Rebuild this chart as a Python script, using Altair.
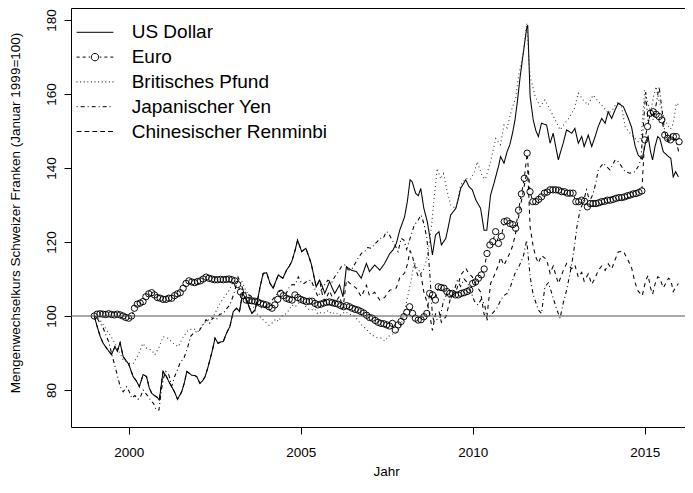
import altair as alt
import pandas as pd

SERIES = ["US Dollar", "Euro", "Britisches Pfund", "Japanischer Yen", "Chinesischer Renminbi"]

# US Dollar (year, index)
USD = [(1999.00,100.0),(1999.07,97.6),(1999.17,94.5),(1999.26,92.6),(1999.38,91.0),(1999.50,89.6),(1999.60,91.7),(1999.67,90.5),(1999.75,92.8),(1999.84,89.0),
       (2000.00,87.0),(2000.13,83.6),(2000.22,82.5),(2000.31,80.9),(2000.42,84.2),(2000.52,83.6),(2000.60,80.5),(2000.67,79.1),(2000.75,78.5),(2000.83,78.0),(2000.89,77.3),
       (2001.00,85.0),(2001.10,83.6),(2001.17,82.2),(2001.25,80.9),(2001.33,79.5),(2001.42,77.5),(2001.54,79.5),(2001.62,82.0),(2001.69,85.0),(2001.75,84.6),(2001.83,84.0),(2001.92,83.9),(2001.98,83.6),
       (2002.07,81.8),(2002.15,82.5),(2002.22,83.6),(2002.30,86.0),(2002.36,88.1),(2002.44,91.0),(2002.51,94.0),(2002.60,92.6),(2002.67,93.0),(2002.75,93.1),(2002.85,95.5),(2002.94,97.1),
       (2003.04,101.2),(2003.14,102.1),(2003.22,101.2),(2003.31,106.1),(2003.43,104.3),(2003.50,102.5),(2003.58,100.7),(2003.67,101.6),(2003.75,104.5),(2003.82,107.9),(2003.91,111.5),
       (2004.01,111.7),(2004.11,108.8),(2004.20,107.5),(2004.28,109.5),(2004.35,111.1),(2004.48,110.2),(2004.59,112.4),(2004.67,113.5),(2004.74,114.7),(2004.83,117.5),(2004.91,120.5),
       (2005.03,117.4),(2005.15,118.3),(2005.24,116.0),(2005.31,114.0),(2005.45,107.9),(2005.55,109.7),(2005.63,108.0),(2005.70,106.1),(2005.84,109.3),(2005.92,107.5),(2005.99,106.1),
       (2006.13,108.4),(2006.23,105.2),(2006.33,113.3),(2006.47,112.4),(2006.62,112.0),(2006.76,110.2),(2006.91,114.2),
       (2007.00,112.0),(2007.15,113.8),(2007.30,112.4),(2007.44,114.2),(2007.59,116.9),(2007.68,117.8),(2007.78,119.6),(2007.88,123.2),
       (2008.02,126.8),(2008.10,130.9),(2008.18,136.8),(2008.24,136.3),(2008.34,133.2),(2008.42,132.5),(2008.49,134.5),(2008.58,129.1),(2008.68,125.5),(2008.76,121.0),(2008.83,116.5),(2008.92,121.9),
       (2009.02,122.8),(2009.09,119.2),(2009.22,121.0),(2009.30,124.5),(2009.36,127.3),(2009.51,129.1),(2009.58,131.5),(2009.65,134.5),(2009.80,136.8),(2009.89,135.0),(2009.99,134.1),
       (2010.09,131.4),(2010.23,129.1),(2010.33,123.2),(2010.41,123.2),(2010.52,132.7),(2010.62,135.9),(2010.76,140.8),(2010.81,143.1),(2010.91,141.3),
       (2011.00,144.4),(2011.08,146.3),(2011.16,149.5),(2011.23,153.0),(2011.30,158.0),(2011.38,164.7),(2011.47,171.0),(2011.57,177.8),(2011.60,178.6),(2011.67,159.3),(2011.76,153.0),(2011.84,150.0),(2011.91,148.5),
       (2012.00,152.1),(2012.15,151.6),(2012.25,146.7),(2012.34,149.4),(2012.42,145.5),(2012.49,142.2),(2012.56,144.5),(2012.63,146.7),(2012.73,150.3),(2012.88,149.4),(2012.97,150.7),
       (2013.07,146.7),(2013.17,148.5),(2013.24,145.8),(2013.36,148.9),(2013.46,145.8),(2013.56,148.5),(2013.65,151.2),(2013.75,153.4),(2013.85,152.1),(2013.94,155.2),
       (2014.04,153.4),(2014.14,155.7),(2014.23,157.5),(2014.38,156.6),(2014.52,153.5),(2014.62,151.0),(2014.72,146.0),(2014.81,143.5),(2014.93,142.4),
       (2015.03,147.1),(2015.10,148.5),(2015.17,144.4),(2015.23,142.2),(2015.30,145.8),(2015.38,148.5),(2015.44,148.0),(2015.54,144.4),(2015.69,143.1),(2015.76,142.6),(2015.83,137.6),(2015.90,139.0),(2015.98,137.6)]

# Euro: monthly values from January 1999
EUR_START = 1999
EUR = [100.0,100.5,100.6,100.5,100.4,100.6,100.4,100.3,100.5,100.3,100.0,99.6,
       99.4,100.0,102.1,103.2,103.5,103.9,105.2,106.0,106.3,105.7,105.0,104.8,
       104.5,104.5,104.8,104.8,105.5,106.0,106.3,107.5,108.8,109.5,109.2,109.0,
       109.3,109.5,110.0,110.5,110.2,110.0,109.8,109.8,109.9,109.8,109.9,110.0,
       109.8,109.5,108.5,106.5,105.5,104.3,104.2,104.1,104.0,103.8,103.4,103.2,
       103.0,102.5,102.1,103.0,104.5,106.1,105.5,104.8,104.5,104.3,105.7,105.0,
       104.5,104.2,103.9,104.0,104.0,103.4,103.0,103.2,103.5,103.7,103.8,103.6,
       103.4,103.2,102.8,102.5,102.8,102.5,102.1,101.8,101.6,101.2,100.8,100.2,
       99.6,99.4,98.8,98.3,98.0,97.9,97.6,97.3,98.0,96.2,97.6,98.5,
       99.8,101.0,102.5,100.7,99.4,98.9,99.0,99.8,100.7,106.1,105.7,104.3,
       107.9,107.7,107.5,106.6,106.1,106.1,105.7,105.7,106.1,106.3,106.6,107.0,
       108.8,109.2,110.2,111.1,112.7,116.9,119.2,120.1,122.8,119.6,121.5,125.5,
       125.7,125.0,124.7,123.7,128.6,133.0,137.2,144.0,133.6,130.9,130.9,131.5,
       132.2,133.2,133.5,134.1,134.1,134.1,134.0,133.6,133.6,133.2,133.2,133.2,
       130.9,130.9,131.3,131.0,129.5,130.4,130.4,130.4,130.6,130.9,131.0,131.3,
       131.3,131.5,131.8,132.0,132.0,132.2,132.5,132.7,133.0,133.1,133.4,133.8,
       147.6,151.2,154.8,155.2,154.5,153.9,153.0,148.9,148.0,147.6,148.5,148.5,
       147.1]

GBP = [(1999.00,100.0),(1999.17,98.9),(1999.36,96.2),(1999.55,93.5),(1999.70,90.8),(1999.84,88.1),(2000.00,87.2),(2000.13,87.2),(2000.28,89.5),(2000.41,92.6),(2000.52,91.3),(2000.67,90.8),(2000.76,89.5),(2000.89,91.7),
       (2001.00,94.4),(2001.14,94.0),(2001.30,92.6),(2001.44,91.7),(2001.59,94.4),(2001.73,96.2),(2001.88,96.6),(2002.02,95.8),(2002.17,98.0),(2002.31,98.9),(2002.46,99.8),(2002.60,102.5),(2002.75,104.8),(2002.90,106.6),
       (2003.04,109.3),(2003.16,109.7),(2003.28,109.5),(2003.40,107.0),(2003.50,105.5),(2003.62,102.5),(2003.72,100.7),(2003.85,99.5),(2003.96,98.5),(2004.08,97.5),(2004.16,98.0),(2004.28,99.2),(2004.35,98.5),(2004.45,100.0),
       (2004.54,100.3),(2004.65,101.5),(2004.74,103.0),(2004.84,102.5),(2004.93,103.3),(2005.03,104.3),(2005.10,103.0),(2005.20,102.0),(2005.30,101.5),(2005.40,102.0),(2005.50,100.5),(2005.60,101.0),(2005.70,100.8),(2005.80,101.5),(2005.90,100.5),
       (2006.00,101.0),(2006.15,100.2),(2006.30,101.2),(2006.40,100.5),(2006.53,100.3),(2006.65,99.0),(2006.77,97.6),(2006.90,96.5),(2007.06,94.9),(2007.20,94.2),(2007.35,94.0),(2007.45,93.2),(2007.55,94.5),(2007.64,94.9),(2007.75,95.5),(2007.88,96.7),
       (2008.00,100.3),(2008.08,104.0),(2008.20,109.0),(2008.30,114.7),(2008.38,113.0),(2008.50,111.5),(2008.60,113.0),(2008.70,117.0),(2008.80,124.0),(2008.88,132.0),(2008.97,139.9),
       (2009.07,137.0),(2009.15,138.5),(2009.25,134.0),(2009.36,130.0),(2009.51,129.0),(2009.65,135.4),(2009.80,137.2),(2009.94,137.0),(2010.05,139.0),(2010.13,141.7),(2010.28,137.7),(2010.37,137.0),(2010.52,141.7),(2010.67,148.0),(2010.81,146.3),(2010.91,151.6),
       (2011.00,150.8),(2011.13,155.7),(2011.25,159.0),(2011.33,164.7),(2011.47,171.0),(2011.57,179.1),(2011.67,164.7),(2011.82,159.3),(2011.96,156.6),(2012.10,158.4),(2012.25,155.7),(2012.40,153.0),(2012.54,150.3),(2012.68,152.1),(2012.80,153.5),(2012.95,156.0),
       (2013.07,160.2),(2013.21,158.4),(2013.35,157.0),(2013.50,159.7),(2013.65,158.0),(2013.79,156.6),(2013.94,154.8),(2014.05,155.5),(2014.15,157.0),(2014.25,158.0),(2014.33,156.5),(2014.43,151.2),(2014.52,150.0),(2014.62,148.9),(2014.72,148.0),(2014.81,147.1),(2014.90,148.5),
       (2015.00,161.0),(2015.08,158.0),(2015.17,155.0),(2015.25,159.0),(2015.33,162.0),(2015.42,158.0),(2015.50,155.7),(2015.58,153.0),(2015.67,151.5),(2015.75,150.5),(2015.83,152.0),(2015.92,157.5),(2016.00,157.0)]

JPY = [(1999.00,100.0),(1999.08,99.5),(1999.17,98.0),(1999.25,97.0),(1999.33,95.0),(1999.42,93.0),(1999.50,90.0),(1999.58,87.2),(1999.67,84.0),(1999.75,81.0),(1999.84,79.5),(1999.94,80.9),
       (2000.02,79.5),(2000.09,77.8),(2000.18,78.5),(2000.27,77.5),(2000.33,77.8),(2000.42,80.0),(2000.50,79.0),(2000.57,78.2),(2000.65,77.0),(2000.72,76.4),(2000.80,74.6),(2000.88,74.6),(2000.95,80.0),
       (2001.02,83.5),(2001.08,85.0),(2001.17,84.0),(2001.25,81.0),(2001.33,83.5),(2001.42,85.5),(2001.50,87.5),(2001.60,88.5),(2001.70,91.0),(2001.80,94.5),(2001.90,95.5),
       (2002.05,96.0),(2002.15,97.5),(2002.25,99.0),(2002.35,98.0),(2002.45,99.5),(2002.55,99.0),(2002.65,100.5),(2002.75,100.7),(2002.85,102.0),(2002.94,103.0),
       (2003.02,105.0),(2003.09,107.0),(2003.18,110.5),(2003.25,109.0),(2003.33,107.0),(2003.45,106.0),(2003.58,105.2),(2003.68,104.0),(2003.77,103.0),(2003.88,102.0),
       (2004.00,102.5),(2004.10,103.5),(2004.25,105.2),(2004.35,106.5),(2004.45,107.0),(2004.55,105.5),(2004.65,107.5),(2004.75,108.5),(2004.84,108.4),(2004.93,110.6),
       (2005.03,108.8),(2005.10,108.8),(2005.20,109.5),(2005.30,109.7),(2005.40,107.5),(2005.50,105.2),(2005.60,107.0),(2005.70,108.5),(2005.79,109.7),(2005.90,109.0),(2005.99,110.6),
       (2006.10,112.0),(2006.18,113.3),(2006.28,113.8),(2006.38,112.5),(2006.47,112.4),(2006.57,114.0),(2006.67,115.6),(2006.77,117.0),(2006.86,117.4),(2006.95,118.5),
       (2007.06,118.3),(2007.15,119.5),(2007.22,120.0),(2007.30,121.0),(2007.40,121.0),(2007.49,122.8),(2007.55,122.5),(2007.63,121.0),(2007.74,119.2),(2007.83,117.4),(2007.92,121.0),
       (2008.00,120.5),(2008.08,118.0),(2008.18,121.0),(2008.30,124.5),(2008.42,126.0),(2008.50,127.3),(2008.58,125.0),(2008.67,121.0),(2008.75,112.0),(2008.83,100.0),(2008.88,98.5),(2008.95,99.0),
       (2009.05,99.5),(2009.15,104.0),(2009.25,106.0),(2009.35,104.5),(2009.45,106.5),(2009.55,109.5),(2009.65,108.0),(2009.75,110.0),(2009.85,109.0),(2009.95,106.5),
       (2010.05,104.0),(2010.15,103.0),(2010.25,104.5),(2010.35,103.0),(2010.42,99.0),(2010.50,100.0),(2010.60,101.0),(2010.70,102.0),(2010.80,104.0),(2010.90,105.5),
       (2011.00,106.1),(2011.10,108.0),(2011.23,111.5),(2011.35,113.5),(2011.47,116.0),(2011.57,120.5),(2011.67,110.6),(2011.76,105.7),(2011.91,101.6),
       (2012.00,100.7),(2012.10,107.9),(2012.20,109.0),(2012.30,106.1),(2012.45,101.6),(2012.54,99.4),(2012.63,103.4),(2012.73,107.0),(2012.83,111.5),(2012.93,116.9),
       (2013.03,124.1),(2013.12,128.6),(2013.22,130.9),(2013.31,134.1),(2013.40,131.0),(2013.50,133.0),(2013.58,136.0),(2013.65,139.5),(2013.80,141.3),(2013.89,140.4),(2013.99,139.5),
       (2014.08,141.0),(2014.14,142.2),(2014.23,141.7),(2014.33,140.4),(2014.43,139.0),(2014.57,138.6),(2014.72,139.0),(2014.81,140.4),(2014.89,142.2),(2014.95,150.0),
       (2015.03,160.5),(2015.10,152.0),(2015.17,155.0),(2015.25,153.0),(2015.33,157.0),(2015.42,162.0),(2015.50,156.0),(2015.58,150.0),(2015.67,147.0),(2015.75,149.0),(2015.83,148.0),(2015.92,147.0),(2016.00,144.0)]

CNY = [(1999.00,100.0),(1999.07,97.6),(1999.17,94.5),(1999.26,92.6),(1999.38,91.0),(1999.50,89.6),(1999.60,91.7),(1999.67,90.5),(1999.75,92.8),(1999.84,89.0),
       (2000.00,87.0),(2000.13,83.6),(2000.22,82.5),(2000.31,80.9),(2000.42,84.2),(2000.52,83.6),(2000.60,80.5),(2000.67,79.1),(2000.75,78.5),(2000.83,78.0),(2000.89,77.3),
       (2001.00,85.0),(2001.10,83.6),(2001.17,82.2),(2001.25,80.9),(2001.33,79.5),(2001.42,77.5),(2001.54,79.5),(2001.62,82.0),(2001.69,85.0),(2001.75,84.6),(2001.83,84.0),(2001.92,83.9),(2001.98,83.6),
       (2002.07,81.8),(2002.15,82.5),(2002.22,83.6),(2002.30,86.0),(2002.36,88.1),(2002.44,91.0),(2002.51,94.0),(2002.60,92.6),(2002.67,93.0),(2002.75,93.1),(2002.85,95.5),(2002.94,97.1),
       (2003.04,101.2),(2003.14,102.1),(2003.22,101.2),(2003.31,106.1),(2003.43,104.3),(2003.50,102.5),(2003.58,100.7),(2003.67,101.6),(2003.75,104.5),(2003.82,107.9),(2003.91,111.5),
       (2004.01,111.7),(2004.11,108.8),(2004.20,107.5),(2004.28,109.5),(2004.35,111.1),(2004.48,110.2),(2004.59,112.4),(2004.67,113.5),(2004.74,114.7),(2004.83,117.5),(2004.91,120.5),
       (2005.03,117.4),(2005.15,118.3),(2005.24,116.0),(2005.31,114.0),(2005.45,107.9),(2005.55,109.7),(2005.63,105.8),(2005.70,104.0),(2005.84,106.8),(2005.92,105.0),(2005.99,103.4),
       (2006.13,105.4),(2006.23,102.0),(2006.33,109.7),(2006.47,108.5),(2006.62,107.5),(2006.76,105.2),(2006.91,108.3),
       (2007.00,105.5),(2007.15,106.4),(2007.30,104.3),(2007.44,105.0),(2007.59,107.0),(2007.68,107.2),(2007.78,107.6),(2007.88,110.3),
       (2008.02,111.6),(2008.10,113.9),(2008.18,117.6),(2008.24,116.5),(2008.34,112.6),(2008.42,110.6),(2008.49,111.4),(2008.58,106.5),(2008.68,103.5),(2008.76,99.8),(2008.83,96.1),(2008.92,100.6),
       (2009.02,101.3),(2009.09,98.3),(2009.22,99.8),(2009.30,102.7),(2009.36,105.0),(2009.51,106.5),(2009.58,108.5),(2009.65,111.0),(2009.80,112.9),(2009.89,111.4),(2009.99,110.6),
       (2010.09,108.4),(2010.23,106.5),(2010.33,100.5),(2010.41,99.5),(2010.52,108.8),(2010.62,110.8),(2010.76,114.0),(2010.81,115.9),(2010.91,113.7),
       (2011.00,115.5),(2011.08,117.0),(2011.16,118.9),(2011.23,121.6),(2011.30,124.8),(2011.38,129.3),(2011.47,133.7),(2011.57,138.7),(2011.60,139.3),(2011.67,124.0),(2011.76,118.7),(2011.84,115.8),(2011.91,114.3),
       (2012.00,116.4),(2012.15,115.2),(2012.25,111.5),(2012.34,113.5),(2012.42,110.9),(2012.49,108.8),(2012.56,110.5),(2012.63,112.2),(2012.73,114.2),(2012.88,112.8),(2012.97,113.8),
       (2013.07,110.5),(2013.17,111.8),(2013.24,109.4),(2013.36,111.4),(2013.46,108.6),(2013.56,110.3),(2013.65,112.3),(2013.75,113.5),(2013.85,112.3),(2013.94,114.1),
       (2014.04,112.7),(2014.14,115.2),(2014.23,117.3),(2014.38,117.5),(2014.52,115.0),(2014.62,113.0),(2014.72,109.0),(2014.81,106.7),(2014.93,105.5),
       (2015.03,109.6),(2015.10,111.0),(2015.17,107.6),(2015.23,105.9),(2015.30,108.6),(2015.38,110.6),(2015.44,110.3),(2015.54,107.6),(2015.69,110.2),(2015.76,109.8),(2015.83,106.6),(2015.90,107.7),(2015.98,108.8)]

REFERENCE_LINE = [100]
X_TICKS = [2000, 2005, 2010, 2015]
Y_TICKS = [80, 100, 120, 140, 160, 180]
X_TITLE = "Jahr"
Y_TITLE = "Mengenwechselkurs Schweizer Franken (Januar 1999=100)"

# ---------------------------------------------------------------- data frames
rows = []
for name, pairs in [("US Dollar", USD), ("Britisches Pfund", GBP),
                    ("Japanischer Yen", JPY), ("Chinesischer Renminbi", CNY)]:
    for yr, v in pairs:
        rows.append({"year": yr, "value": v, "series": name})
df_lines = pd.DataFrame(rows)
df_eur = pd.DataFrame({"year": [EUR_START + i / 12 for i in range(len(EUR))],
                       "value": EUR, "series": "Euro"})
df_ref = pd.DataFrame({"v": REFERENCE_LINE})
df_legend = pd.DataFrame({"series": SERIES})

# ---------------------------------------------------------------- styling
FONT = "Liberation Sans"
X_DOMAIN = [1998.323, 2016.172]
Y_DOMAIN = [70.0, 183.24]
x_scale = alt.Scale(domain=X_DOMAIN, nice=False, zero=False)
y_scale = alt.Scale(domain=Y_DOMAIN, nice=False, zero=False)

LINE_SERIES = ["US Dollar", "Britisches Pfund", "Japanischer Yen", "Chinesischer Renminbi"]
LINE_DASH = [[1, 0], [1, 3], [1, 3, 4, 3], [4, 4]]
LINE_COLOR = ["black", "#333333", "black", "black"]

# legend glyphs, drawn in pixels around the symbol centre (1 path unit = 5 px)
UNIT = 5.0
HALF = 18.35


def pattern_segments(pattern):
    segs, pos, i = [], -HALF, 0
    while pos < HALF:
        length = pattern[i % len(pattern)]
        if i % 2 == 0:
            segs.append((pos, min(pos + length, HALF)))
        pos += length
        i += 1
    return segs


def seg_path(segs):
    return " ".join(f"M{a / UNIT:.3f},0H{b / UNIT:.3f}" for a, b in segs)


def circle_path(r):
    r = r / UNIT
    return f" M{r:.3f},0A{r:.3f},{r:.3f} 0 1,1 {-r:.3f},0A{r:.3f},{r:.3f} 0 1,1 {r:.3f},0"


LEGEND_PATHS = [
    seg_path([(-HALF, HALF)]),
    seg_path([(-18.35, -15.35), (-12.35, -9.35), (-6.35, -4.9), (4.9, 6.35), (9.35, 12.35), (15.35, 18.35)]) + circle_path(3.7),
    seg_path([(c - 0.5, c + 0.5) for c in [-18 + 3.6 * k for k in range(11)]]),
    seg_path(pattern_segments([1, 3, 4, 3])),
    seg_path(pattern_segments([4.8, 3.07])),
]

bottom_axis = alt.Axis(values=X_TICKS, format="d", tickSize=7, tickColor="black", tickWidth=1,
                       domainColor="black", domainWidth=1, labelFontSize=13.5, labelColor="black",
                       labelBaseline="alphabetic", labelPadding=22, labelFlush=False, grid=False,
                       title=X_TITLE, titleFontSize=13.5, titleFontWeight="normal", titleColor="black",
                       titleX=315, titleY=48, titleAlign="center", titleBaseline="alphabetic")
top_axis = alt.Axis(orient="top", labels=False, ticks=False, grid=False, title=None,
                    domainColor="black", domainWidth=1)
left_axis = alt.Axis(values=Y_TICKS, format="d", tickSize=7, tickColor="black", tickWidth=1,
                     domainColor="black", domainWidth=1, labelFontSize=13.5, labelColor="black",
                     labelAngle=270, labelAlign="center", labelBaseline="alphabetic", labelPadding=9,
                     grid=False, title=Y_TITLE, titleFontSize=13.5, titleFontWeight="normal",
                     titleColor="black", titleAngle=270, titleX=-52, titleY=204.5,
                     titleAlign="center", titleBaseline="alphabetic")

euro_line = alt.Chart(df_eur).mark_line(strokeWidth=1, strokeDash=[4, 4], color="black").encode(
    x=alt.X("year:Q", scale=x_scale, axis=bottom_axis),
    y=alt.Y("value:Q", scale=y_scale, axis=left_axis),
)
euro_discs = alt.Chart(df_eur).mark_circle(size=30, color="white", opacity=1).encode(
    x=alt.X("year:Q", scale=x_scale, axis=top_axis),
    y=alt.Y("value:Q", scale=y_scale, axis=None),
)
other_lines = alt.Chart(df_lines).mark_line(strokeWidth=1.05).encode(
    x=alt.X("year:Q", scale=x_scale, axis=None),
    y=alt.Y("value:Q", scale=y_scale, axis=None),
    strokeDash=alt.StrokeDash("series:N", scale=alt.Scale(domain=LINE_SERIES, range=LINE_DASH), legend=None),
    color=alt.Color("series:N", scale=alt.Scale(domain=LINE_SERIES, range=LINE_COLOR), legend=None),
    order="year:Q",
)
euro_points = alt.Chart(df_eur).mark_point(shape="circle", filled=False, size=40, color="black",
                                           strokeWidth=0.95, opacity=1).encode(
    x=alt.X("year:Q", scale=x_scale, axis=None),
    y=alt.Y("value:Q", scale=y_scale, axis=None),
)
ref_line = alt.Chart(df_ref).mark_rule(color="#555555", strokeWidth=1.2).encode(
    y=alt.Y("v:Q", scale=y_scale, axis=None),
)
legend_layer = alt.Chart(df_legend).mark_point(opacity=0, filled=False).encode(
    shape=alt.Shape("series:N", scale=alt.Scale(domain=SERIES, range=LEGEND_PATHS),
                    legend=alt.Legend(orient="none", legendX=14.5, legendY=14.8, title=None,
                                      symbolSize=100, symbolStrokeWidth=1, symbolStrokeColor="black",
                                      symbolFillColor="transparent", symbolOpacity=1,
                                      labelFontSize=19, labelColor="black", labelOffset=27.2,
                                      labelLimit=400, rowPadding=4.8, padding=0, symbolOffset=0)),
)

chart = alt.layer(euro_line, euro_discs, other_lines, euro_points, ref_line, legend_layer).resolve_axis(
    x="independent", y="independent"
).properties(
    width=614, height=419,
    autosize=alt.AutoSizeParams(type="none"),
    padding={"left": 63, "top": 0, "right": 0, "bottom": 53},
).configure(font=FONT).configure_view(stroke="transparent")

chart.save("out.html", embed_options={"renderer": "svg", "actions": False})
